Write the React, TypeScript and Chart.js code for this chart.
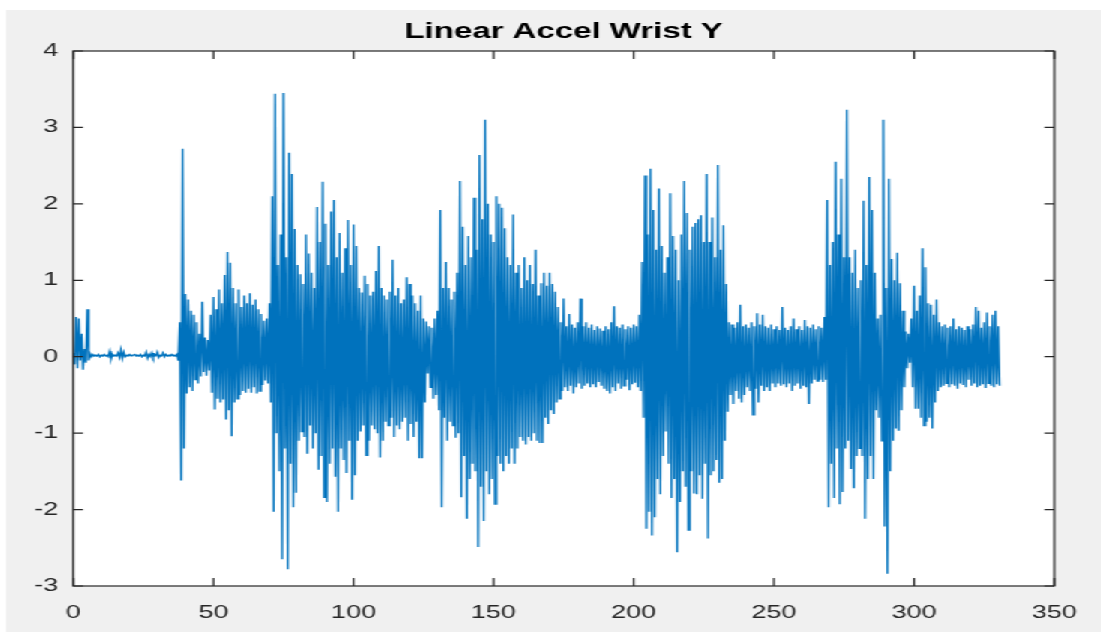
import React, { useEffect, useRef } from "react";
import { Chart, registerables } from "chart.js";

Chart.register(...registerables);

// ---- chart text & axes ----
const chartTitle = "Linear Accel Wrist Y";
const xTickValues = [0, 50, 100, 150, 200, 250, 300, 350];
const yTickValues = [-3, -2, -1, 0, 1, 2, 3, 4];

// seconds between consecutive samples of the traced signal
const sampleStep = 0.5;

// ---- signal (consecutive samples) ----
// t = 0 .. 37.5 : small wiggle at start, then resting
const restPhase = [
  0.05, -0.1, 0.52, -0.15, 0.5, -0.05, 0.3, -0.17, 0.1, -0.08,
  0.62, -0.05, 0.04, 0.0, 0.03, 0.01, 0.02, 0.01, 0.03, 0.0,
  0.02, 0.01, 0.03, 0.01, 0.02, 0.0, 0.07, -0.03, 0.03, 0.01,
  0.02, 0.01, 0.05, -0.01, 0.09, -0.02, 0.06, 0.0, 0.02, 0.01,
  0.03, 0.01, 0.02, 0.02, 0.03, 0.01, 0.02, 0.01, 0.03, 0.0,
  0.02, 0.01, 0.06, -0.02, 0.03, 0.0, 0.05, -0.01, 0.03, 0.01,
  0.06, -0.01, 0.02, 0.01, 0.05, 0.0, 0.03, 0.01, 0.02, 0.01,
  0.03, 0.01, 0.02, 0.01, 0.03, -0.05,
];
// t = 38 .. 69.5
const burstOne = [
  0.45, -1.62, 2.72, -1.2, 0.82, -0.48, 0.75, -0.4, 0.6, -0.45,
  0.55, -0.3, 0.45, -0.35, 0.3, -0.26, 0.72, -0.2, 0.25, -0.25,
  0.22, -0.18, 0.55, -0.47, 0.78, -0.69, 0.62, -0.55, 0.88, -0.6,
  0.7, -0.56, 1.07, -0.82, 1.37, -0.7, 1.23, -1.04, 0.9, -0.6,
  0.7, -0.55, 0.88, -0.5, 0.65, -0.45, 0.8, -0.47, 0.7, -0.42,
  0.83, -0.47, 0.68, -0.4, 0.75, -0.48, 0.62, -0.45, 0.56, -0.37,
  0.47, -0.31, 0.5, -0.35,
];
// t = 70 .. 101.5
const burstTwo = [
  0.7, -0.6, 2.1, -2.03, 3.44, -1.0, 1.2, -1.5, 1.6, -2.65,
  3.45, -1.2, 1.3, -2.78, 2.67, -1.4, 2.39, -1.97, 1.67, -1.78,
  1.2, -1.1, 1.08, -0.98, 0.95, -1.05, 1.6, -1.27, 1.35, -0.9,
  1.1, -1.2, 0.9, -1.0, 1.96, -1.48, 1.5, -1.3, 2.29, -1.84,
  1.74, -1.9, 1.2, -1.4, 1.9, -1.2, 2.05, -1.57, 1.3, -2.03,
  1.62, -1.2, 1.1, -1.35, 1.42, -1.52, 1.79, -1.1, 1.2, -1.87,
  1.73, -1.55, 1.45, -1.1,
];
// t = 102 .. 130.5
const settleTwo = [
  0.9, -0.98, 0.84, -0.9, 1.06, -1.29, 0.95, -1.1, 0.8, -0.9,
  0.85, -0.95, 1.12, -1.0, 1.45, -1.32, 0.9, -1.1, 0.8, -0.85,
  0.75, -0.9, 0.85, -0.8, 1.27, -1.05, 0.8, -0.9, 0.9, -0.95,
  0.7, -0.85, 0.75, -0.8, 1.04, -1.1, 0.95, -0.88, 0.8, -1.05,
  0.7, -0.85, 0.6, -1.33, 0.8, -1.33, 0.5, -0.6, 0.46, -0.22,
  0.4, -0.4, 0.38, -0.55, 0.5, -0.5, 0.6, -0.7,
];
// t = 131 .. 170.5
const burstThree = [
  1.92, -1.97, 0.9, -0.8, 1.24, -1.1, 0.9, -0.85, 0.75, -0.9,
  0.85, -1.06, 1.1, -1.0, 2.3, -1.84, 1.7, -1.3, 1.2, -2.12,
  1.58, -1.6, 1.3, -1.4, 2.08, -1.5, 1.4, -2.49, 2.64, -1.7,
  1.8, -2.15, 3.1, -1.5, 2.0, -1.8, 1.6, -1.6, 1.5, -1.93,
  2.1, -1.3, 2.0, -1.4, 1.95, -1.5, 1.68, -1.3, 1.3, -1.4,
  1.2, -1.2, 1.86, -1.4, 1.1, -1.2, 1.2, -1.05, 0.9, -1.1,
  1.3, -1.15, 1.0, -1.05, 1.2, -1.1, 0.95, -1.0, 1.4, -1.1,
  0.8, -1.13, 0.96, -1.13, 1.1, -0.8, 0.93, -0.88, 1.1, -0.7,
];
// t = 171 .. 202.5
const quietThree = [
  0.95, -0.75, 0.85, -0.6, 0.65, -0.55, 0.45, -0.45, 0.76, -0.4,
  0.4, -0.45, 0.56, -0.38, 0.42, -0.48, 0.38, -0.4, 0.45, -0.35,
  0.76, -0.42, 0.4, -0.38, 0.45, -0.35, 0.38, -0.4, 0.42, -0.36,
  0.35, -0.4, 0.4, -0.33, 0.37, -0.38, 0.34, -0.42, 0.4, -0.45,
  0.36, -0.48, 0.45, -0.4, 0.66, -0.45, 0.4, -0.35, 0.38, -0.42,
  0.42, -0.38, 0.36, -0.3, 0.4, -0.44, 0.38, -0.36, 0.42, -0.34,
  0.4, -0.4, 0.55, -0.45,
];
// t = 203 .. 233.5
const burstFour = [
  1.24, -0.8, 2.37, -2.25, 1.6, -2.03, 2.46, -2.34, 1.92, -2.1,
  1.4, -1.6, 2.2, -1.8, 1.45, -1.3, 1.1, -0.98, 1.3, -1.4,
  2.14, -1.85, 1.58, -1.6, 1.4, -2.56, 1.0, -1.9, 1.6, -1.5,
  2.3, -1.7, 1.88, -2.27, 1.4, -1.5, 1.7, -1.79, 1.75, -1.8,
  1.8, -1.55, 1.85, -1.86, 1.5, -1.4, 2.39, -2.38, 1.5, -1.55,
  1.82, -1.5, 1.3, -1.35, 2.51, -1.65, 1.4, -1.6, 1.72, -1.1,
  0.95, -0.72,
];
// t = 234 .. 268.5
const quietFour = [
  0.45, -0.5, 0.42, -0.62, 0.38, -0.45, 0.45, -0.55, 0.68, -0.6,
  0.4, -0.5, 0.42, -0.4, 0.38, -0.45, 0.45, -0.76, 0.4, -0.42,
  0.57, -0.6, 0.42, -0.38, 0.55, -0.45, 0.4, -0.4, 0.38, -0.45,
  0.42, -0.35, 0.36, -0.4, 0.4, -0.35, 0.35, -0.38, 0.65, -0.36,
  0.38, -0.4, 0.35, -0.35, 0.4, -0.45, 0.5, -0.38, 0.36, -0.35,
  0.4, -0.42, 0.35, -0.38, 0.48, -0.4, 0.4, -0.62, 0.38, -0.35,
  0.42, -0.3, 0.36, -0.32, 0.4, -0.3, 0.38, -0.33, 0.52, -0.3,
];
// t = 269 .. 296.5
const burstFive = [
  2.05, -1.97, 1.2, -1.4, 1.5, -1.85, 2.55, -1.2, 1.6, -1.93,
  2.33, -1.77, 1.3, -1.2, 3.23, -1.1, 1.3, -1.47, 1.1, -1.72,
  1.4, -1.3, 0.9, -1.2, 1.0, -1.3, 2.04, -2.12, 1.2, -1.6,
  2.35, -1.3, 1.92, -1.6, 1.1, -0.7, 0.5, -0.8, 0.55, -1.1,
  3.1, -2.22, 0.9, -2.84, 2.33, -1.5, 1.28, -1.1, 1.0, -0.94,
  1.36, -0.97, 0.96, -0.7, 0.6, -0.4,
];
// t = 297 .. 330.5
const tailPhase = [
  0.33, -0.15, 0.3, -0.08, 0.5, -0.4, 0.93, -0.68, 0.6, -0.68,
  0.8, -0.8, 1.42, -0.9, 1.17, -0.85, 0.7, -0.8, 0.68, -0.94,
  0.55, -0.6, 0.75, -0.45, 0.45, -0.4, 0.4, -0.38, 0.42, -0.35,
  0.38, -0.4, 0.4, -0.36, 0.5, -0.38, 0.36, -0.42, 0.4, -0.35,
  0.38, -0.37, 0.35, -0.4, 0.4, -0.3, 0.36, -0.38, 0.42, -0.35,
  0.65, -0.4, 0.6, -0.38, 0.38, -0.36, 0.45, -0.41, 0.58, -0.35,
  0.4, -0.38, 0.55, -0.4, 0.6, -0.36, 0.4, -0.38,
];

const signalSegments = [
  restPhase, burstOne, burstTwo, settleTwo, burstThree,
  quietThree, burstFour, quietFour, burstFive, tailPhase,
];

// ---- styling ----
const FONT = "'Liberation Sans', Arial, Helvetica, sans-serif";
const AXIS_COLOR = "#262626";
const LINE_COLOR = "#0072BD";
const FIG_BG = "#f0f0f0";
const CANVAS_W = 734;
const CANVAS_H = 632;
const STRETCH_X = 1.5;

const matlabFrame = {
  id: "matlabFrame",
  beforeDraw(chart: any) {
    const { ctx, width, height, chartArea: a } = chart;
    ctx.save();
    ctx.fillStyle = "#ffffff";
    ctx.fillRect(0, 0, width, height);
    ctx.fillStyle = FIG_BG;
    ctx.fillRect(4, 10, width - 4, height - 10);
    ctx.fillStyle = "#ffffff";
    ctx.fillRect(a.left, a.top, a.right - a.left, a.bottom - a.top);
    ctx.restore();
  },
  afterDraw(chart: any) {
    const { ctx, chartArea: a, scales } = chart;
    ctx.save();
    ctx.strokeStyle = AXIS_COLOR;
    ctx.lineWidth = 1.2;
    ctx.strokeRect(a.left, a.top, a.right - a.left, a.bottom - a.top);
    ctx.beginPath();
    for (const v of xTickValues) {
      const px = scales.x.getPixelForValue(v);
      ctx.moveTo(px, a.bottom);
      ctx.lineTo(px, a.bottom - 8);
      ctx.moveTo(px, a.top);
      ctx.lineTo(px, a.top + 8);
    }
    for (const v of yTickValues) {
      const py = scales.y.getPixelForValue(v);
      ctx.moveTo(a.left, py);
      ctx.lineTo(a.left + 6.5, py);
      ctx.moveTo(a.right, py);
      ctx.lineTo(a.right - 6.5, py);
    }
    ctx.stroke();
    ctx.restore();
  },
};

export default function App() {
  const canvasRef = useRef<HTMLCanvasElement | null>(null);

  useEffect(() => {
    const canvas = canvasRef.current;
    if (!canvas) return;
    const signal = signalSegments.flat();
    const points = signal.map((y, i) => ({ x: i * sampleStep, y }));

    const chart = new Chart(canvas, {
      type: "line",
      data: {
        datasets: [
          {
            data: points,
            borderColor: LINE_COLOR,
            borderWidth: 1.3,
            pointRadius: 0,
            tension: 0,
            fill: false,
          },
        ],
      },
      options: {
        responsive: false,
        animation: false,
        devicePixelRatio: 1,
        layout: { padding: { left: 0, right: 27.3, top: 0, bottom: 0 } },
        plugins: {
          legend: { display: false },
          tooltip: { enabled: false },
          title: {
            display: true,
            text: chartTitle,
            fullSize: false,
            color: "#000000",
            font: { family: FONT, size: 22, weight: "bold", lineHeight: 1.2 },
            padding: { top: 19, bottom: 5.6 },
          },
        },
        scales: {
          x: {
            type: "linear",
            min: 0,
            max: 350,
            afterBuildTicks: (s: any) => {
              s.ticks = xTickValues.map((v) => ({ value: v }));
            },
            afterFit: (s: any) => {
              s.height = 46;
            },
            ticks: {
              color: AXIS_COLOR,
              font: { family: FONT, size: 18 },
              padding: 16,
              maxRotation: 0,
              autoSkip: false,
            },
            grid: { display: false, drawTicks: false },
            border: { display: false },
          },
          y: {
            type: "linear",
            min: -3,
            max: 4,
            afterBuildTicks: (s: any) => {
              s.ticks = yTickValues.map((v) => ({ value: v }));
            },
            afterFit: (s: any) => {
              s.width = 48.7;
            },
            ticks: {
              color: AXIS_COLOR,
              font: { family: FONT, size: 18 },
              padding: 10,
              autoSkip: false,
            },
            grid: { display: false, drawTicks: false },
            border: { display: false },
          },
        },
      },
      plugins: [matlabFrame],
    });
    return () => chart.destroy();
  }, []);

  return (
    <div
      style={{
        position: "fixed",
        left: 0,
        top: 0,
        width: CANVAS_W,
        height: CANVAS_H,
        transform: `scaleX(${STRETCH_X})`,
        transformOrigin: "0 0",
        background: "#ffffff",
      }}
    >
      <canvas ref={canvasRef} width={CANVAS_W} height={CANVAS_H} />
    </div>
  );
}
